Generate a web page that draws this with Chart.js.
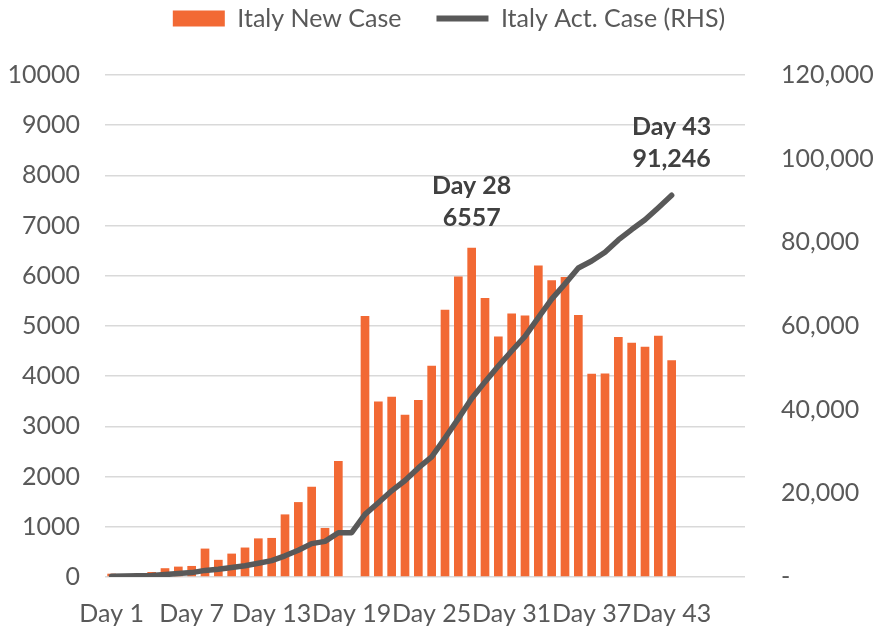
<!DOCTYPE html>
<html>
<head>
<meta charset="utf-8">
<script src="https://cdn.jsdelivr.net/npm/chart.js@4.4.1/dist/chart.umd.min.js"></script>
<style>
    html, body { margin: 0; padding: 0; background: #fff; }
</style>
</head>
<body>
<canvas id="italyChart" width="874" height="628"></canvas>
<script>
// categories
const days = [
    'Day 1', 'Day 2', 'Day 3', 'Day 4', 'Day 5', 'Day 6', 'Day 7', 'Day 8',
    'Day 9', 'Day 10', 'Day 11', 'Day 12', 'Day 13', 'Day 14', 'Day 15', 'Day 16',
    'Day 17', 'Day 18', 'Day 19', 'Day 20', 'Day 21', 'Day 22', 'Day 23', 'Day 24',
    'Day 25', 'Day 26', 'Day 27', 'Day 28', 'Day 29', 'Day 30', 'Day 31', 'Day 32',
    'Day 33', 'Day 34', 'Day 35', 'Day 36', 'Day 37', 'Day 38', 'Day 39', 'Day 40',
    'Day 41', 'Day 42', 'Day 43', 'Day 44', 'Day 45', 'Day 46', 'Day 47', 'Day 48'
];

// Italy new cases (bars, LHS)
const newCases = [
    66, 0, 70, 100, 175, 207, 220, 566, 342, 466, 587, 769, 778, 1247, 1492,
    1797, 977, 2313, null, 5198, 3497, 3590, 3233, 3526, 4207, 5322, 5986, 6557,
    5560, 4789, 5249, 5210, 6203, 5909, 5974, 5217, 4050, 4053, 4782, 4668, 4585,
    4805, 4316
];

// Italy active cases (line, RHS)
const activeCases = [
    150, 221, 311, 385, 588, 821, 1049, 1577, 1835, 2263, 2706, 3296, 3916, 5061,
    6387, 7985, 8514, 10590, 10590, 14955, 17750, 20603, 23073, 26062, 28710,
    33190, 37860, 42681, 46638, 50418, 54030, 57521, 62013, 66414, 70065, 73880,
    75528, 77635, 80572, 83049, 85388, 88274, 91246
];

// axis ranges: [min, max, step]
const leftRange = [0, 10000, 1000];
const rightRange = [0, 120000, 20000];
const labelEvery = 6;

// labelled points: [dataset, index]
const callouts = [[0, 27], [1, 42]];

Chart.defaults.font.family = 'Lato';
Chart.defaults.font.size = 25;
Chart.defaults.color = '#595959';

const calloutPlugin = {
    id: 'callouts',
    afterDatasetsDraw(chart) {
        const ctx = chart.ctx;
        ctx.save();
        ctx.font = 'bold 25px Lato';
        ctx.fillStyle = '#404040';
        ctx.textAlign = 'center';
        ctx.textBaseline = 'middle';
        callouts.forEach(([ds, i]) => {
            const el = chart.getDatasetMeta(ds).data[i];
            const val = chart.data.datasets[ds].data[i];
            const lift = ds === 0 ? 30 : 36;
            const txt = ds === 0 ? String(val) : val.toLocaleString('en-US');
            ctx.fillText(days[i], el.x, el.y - lift - 32);
            ctx.fillText(txt, el.x, el.y - lift);
        });
        ctx.restore();
    }
};

new Chart(document.getElementById('italyChart'), {
    type: 'bar',
    data: {
        labels: days,
        datasets: [{
            label: 'Italy New Case',
            data: newCases,
            backgroundColor: '#f26934',
            barPercentage: 0.65,
            categoryPercentage: 1,
            pointStyle: 'rect',
            yAxisID: 'y',
            order: 2
        }, {
            type: 'line',
            label: 'Italy Act. Case (RHS)',
            data: activeCases,
            borderColor: '#595959',
            backgroundColor: '#595959',
            borderWidth: 5.5,
            borderJoinStyle: 'round',
            borderCapStyle: 'round',
            pointRadius: 0,
            pointHoverRadius: 0,
            pointStyle: 'line',
            pointBorderColor: '#595959',
            pointBorderWidth: 6,
            tension: 0,
            yAxisID: 'y1',
            order: 1
        }]
    },
    options: {
        responsive: false,
        animation: false,
        devicePixelRatio: 1,
        layout: {
            // legend sits a bit right of centre, so widen the box to the right
            padding: { top: -29, left: 0, right: -24, bottom: 0 }
        },
        plugins: {
            legend: {
                position: 'top',
                labels: {
                    usePointStyle: true,
                    pointStyleWidth: 52,
                    boxHeight: 16,
                    padding: 35,
                    color: '#595959',
                    sort: (a, b) => a.datasetIndex - b.datasetIndex
                }
            },
            // spacer between legend and plot
            title: {
                display: true,
                text: '',
                weight: 500,
                padding: 0,
                font: { size: 34, lineHeight: 1 }
            },
            tooltip: { enabled: false }
        },
        scales: {
            x: {
                grid: { display: false, drawTicks: false },
                border: { display: false },
                ticks: {
                    autoSkip: false,
                    maxRotation: 0,
                    padding: 22,
                    callback: (v, i) => i % labelEvery === 0 ? days[i] : ''
                },
                afterFit: (scale) => { scale.height = 51; }
            },
            y: {
                position: 'left',
                min: leftRange[0],
                max: leftRange[1],
                grid: { color: '#d9d9d9', lineWidth: 1.5, drawTicks: false },
                border: { display: false },
                ticks: {
                    stepSize: leftRange[2],
                    padding: 25,
                    callback: (v) => String(v)
                },
                afterFit: (scale) => { scale.width = 105; }
            },
            y1: {
                position: 'right',
                min: rightRange[0],
                max: rightRange[1],
                grid: { display: false, drawTicks: false },
                border: { display: false },
                ticks: {
                    stepSize: rightRange[2],
                    padding: 36,
                    callback: (v) => v === 0 ? '-' : v.toLocaleString('en-US')
                },
                afterFit: (scale) => { scale.width = 153; }
            }
        }
    },
    plugins: [calloutPlugin]
});
</script>
</body>
</html>
